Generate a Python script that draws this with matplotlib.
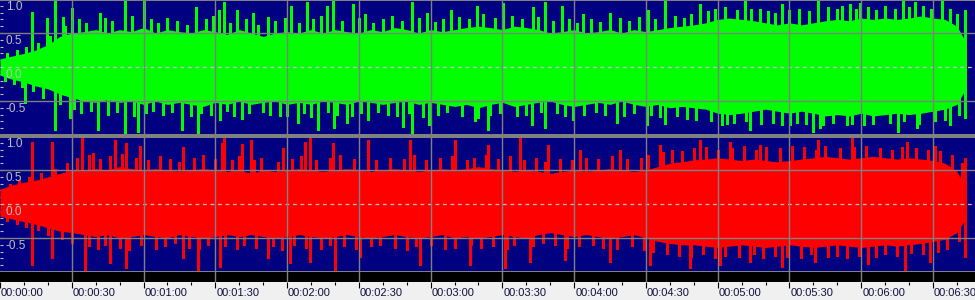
import numpy as np
import matplotlib.pyplot as plt

# --- datos (segundos / amplitud) ---
t_env = np.append(np.arange(0, 405, 5), 404)

verde_sup = [0.12, 0.16, 0.20, 0.25, 0.33, 0.45, 0.50, 0.52, 0.55, 0.50,
             0.55, 0.52, 0.58, 0.50, 0.55, 0.52, 0.50, 0.55, 0.52, 0.48,
             0.55, 0.50, 0.45, 0.50, 0.52, 0.50, 0.55, 0.50, 0.55, 0.52,
             0.50, 0.55, 0.52, 0.58, 0.55, 0.50, 0.55, 0.52, 0.55, 0.58,
             0.60, 0.58, 0.55, 0.60, 0.58, 0.55, 0.50, 0.52, 0.55, 0.50,
             0.52, 0.55, 0.50, 0.55, 0.52, 0.55, 0.58, 0.60, 0.62, 0.65,
             0.70, 0.72, 0.70, 0.68, 0.65, 0.62, 0.65, 0.62, 0.65, 0.68,
             0.70, 0.68, 0.72, 0.70, 0.72, 0.70, 0.72, 0.75, 0.72, 0.70,
             0.60, 0.35]
verde_inf = [-0.12, -0.18, -0.22, -0.28, -0.32, -0.40, -0.45, -0.50, -0.52, -0.48,
             -0.52, -0.50, -0.55, -0.50, -0.55, -0.52, -0.55, -0.58, -0.52, -0.55,
             -0.50, -0.55, -0.52, -0.50, -0.55, -0.52, -0.55, -0.50, -0.52, -0.55,
             -0.50, -0.52, -0.55, -0.52, -0.50, -0.55, -0.52, -0.55, -0.58, -0.55,
             -0.60, -0.55, -0.52, -0.58, -0.55, -0.52, -0.50, -0.55, -0.58, -0.55,
             -0.52, -0.55, -0.50, -0.55, -0.58, -0.55, -0.60, -0.58, -0.60, -0.62,
             -0.68, -0.70, -0.68, -0.65, -0.62, -0.65, -0.68, -0.65, -0.68, -0.72,
             -0.70, -0.72, -0.68, -0.72, -0.70, -0.68, -0.70, -0.68, -0.65, -0.62,
             -0.55, -0.30]
rojo_sup = [0.22, 0.28, 0.32, 0.35, 0.40, 0.45, 0.50, 0.50, 0.52, 0.50,
            0.55, 0.52, 0.50, 0.52, 0.50, 0.48, 0.50, 0.52, 0.50, 0.48,
            0.50, 0.45, 0.50, 0.48, 0.50, 0.52, 0.50, 0.48, 0.50, 0.52,
            0.50, 0.48, 0.50, 0.52, 0.50, 0.48, 0.50, 0.52, 0.50, 0.52,
            0.55, 0.52, 0.50, 0.48, 0.50, 0.48, 0.45, 0.48, 0.50, 0.48,
            0.50, 0.52, 0.50, 0.48, 0.50, 0.55, 0.60, 0.62, 0.65, 0.66,
            0.68, 0.66, 0.64, 0.66, 0.64, 0.62, 0.64, 0.66, 0.68, 0.70,
            0.68, 0.66, 0.68, 0.70, 0.68, 0.66, 0.68, 0.66, 0.64, 0.60,
            0.48, 0.20]
rojo_inf = [-0.18, -0.22, -0.26, -0.30, -0.35, -0.40, -0.42, -0.45, -0.48, -0.45,
            -0.50, -0.48, -0.45, -0.48, -0.50, -0.45, -0.48, -0.50, -0.48, -0.45,
            -0.48, -0.45, -0.48, -0.50, -0.48, -0.45, -0.48, -0.50, -0.48, -0.45,
            -0.48, -0.50, -0.48, -0.45, -0.48, -0.50, -0.48, -0.45, -0.50, -0.48,
            -0.50, -0.48, -0.45, -0.48, -0.50, -0.45, -0.42, -0.45, -0.48, -0.45,
            -0.48, -0.50, -0.48, -0.45, -0.50, -0.55, -0.58, -0.60, -0.60, -0.62,
            -0.64, -0.62, -0.60, -0.62, -0.64, -0.62, -0.60, -0.62, -0.64, -0.62,
            -0.60, -0.62, -0.64, -0.62, -0.60, -0.62, -0.60, -0.58, -0.55, -0.52,
            -0.42, -0.20]

# picos aislados altos (segundo, amplitud)
verde_picos_t = [13.4, 19.6, 23, 26.3, 30.1, 41.8, 52.3, 60.2, 82, 91.6, 93.6, 99.1,
                 105.8, 112, 121.7, 128.3, 136.7, 139.2, 147.6, 152.6, 172.2, 178.5,
                 188.5, 199.4, 210.3, 222.8, 227.8, 235, 243.7, 255, 270.9, 278,
                 292.6, 311.5, 317.7, 326.9, 342, 355.4, 359.5, 377.5, 382.5, 393.8, 403.4]
verde_picos_v = [0.81, 0.72, 1.0, 0.74, 0.87, 0.8, 1.0, 1.0, 0.88, 0.84, 0.96, 0.84,
                 0.8, 0.74, 0.9, 0.95, 0.9, 0.97, 0.92, 0.78, 0.96, 0.8,
                 0.84, 0.9, 0.94, 0.88, 0.96, 0.9, 0.78, 0.8, 0.84, 0.98,
                 0.92, 1.0, 0.85, 0.92, 0.97, 0.93, 0.94, 0.97, 0.96, 0.97, 0.84]
verde_valles_t = [10.5, 23, 29.3, 41, 52.3, 57.7, 76.1, 82.8, 92, 101.2, 117, 124.6,
                  132.9, 139.6, 145, 153.8, 168.5, 172.2, 179.3, 198.6, 204, 222.4,
                  227.8, 239.5, 258, 270.5, 278, 301.8, 313.5, 330.3, 339.9, 342.8,
                  354.1, 375.4, 383.4, 397.2, 403.4]
verde_valles_v = [-0.53, -0.93, -0.75, -0.93, -1.0, -0.95, -0.93, -0.97, -0.78, -0.77, -0.72, -0.83,
                  -0.93, -0.9, -0.82, -0.78, -0.88, -0.97, -0.85, -0.8, -0.93, -0.85,
                  -0.9, -0.78, -0.82, -0.85, -0.84, -0.85, -0.93, -0.85, -0.95, -0.9,
                  -0.85, -0.95, -0.9, -0.85, -0.75]
rojo_picos_t = [13.4, 21.7, 34.3, 38.9, 48.1, 52.7, 58.5, 76.5, 92.8, 93.6, 101.2, 104.9,
                118.3, 127.5, 129.6, 139.2, 153.8, 171.4, 190.2, 204, 217.4, 229.1,
                242.5, 259.2, 275.9, 292.6, 305.2, 317.7, 326.1, 342, 356.2, 367.9,
                379.2, 390.9, 403.4]
rojo_picos_v = [0.91, 0.91, 0.97, 0.75, 0.94, 0.9, 0.85, 0.84, 0.9, 0.97, 0.88, 0.94,
                0.82, 0.91, 0.97, 0.9, 0.94, 0.94, 0.94, 0.87, 0.97, 0.87,
                0.8, 0.8, 0.87, 0.94, 0.91, 0.87, 0.8, 0.94, 0.97, 0.82,
                0.91, 0.86, 0.68]
rojo_valles_t = [13.4, 21.7, 35.5, 46, 52.7, 76.5, 82.8, 92, 112, 121.2, 129.6, 140,
                 150.5, 175.6, 196.5, 211.1, 221.6, 236.2, 255, 271.7, 288.5, 301,
                 313.5, 326.9, 340.7, 362.9, 378.3, 388.8, 403.4]
rojo_valles_v = [-0.9, -0.8, -0.97, -0.87, -0.94, -0.8, -0.97, -0.92, -0.8, -0.87, -0.85, -0.97,
                 -0.78, -0.9, -0.9, -0.94, -0.85, -0.82, -0.85, -0.9, -0.94, -0.9,
                 -0.85, -0.92, -0.85, -0.88, -0.97, -0.85, -0.78]

# picos medianos que forman el borde dentado
verde_med_sup_t = [3, 7, 11, 16, 21, 27, 33, 36, 44, 47,
                   55, 63, 66, 70, 74, 78, 86, 89, 96, 103,
                   108, 115, 119, 125, 131, 134, 143, 150, 156, 160,
                   164, 168, 175, 182, 185, 192, 196, 202, 207, 214,
                   218, 225, 231, 238, 241, 247, 251, 259, 263, 267,
                   274, 282, 286, 289, 296, 299, 303, 308, 314, 321,
                   324, 330, 334, 338, 346, 350, 352, 358, 363, 366,
                   370, 374, 380, 386, 389, 397, 400]
verde_med_sup_v = [0.2, 0.25, 0.3, 0.35, 0.45, 0.6, 0.7, 0.65, 0.72, 0.68,
                   0.75, 0.7, 0.65, 0.72, 0.68, 0.62, 0.7, 0.75, 0.65, 0.7,
                   0.62, 0.68, 0.72, 0.65, 0.7, 0.75, 0.68, 0.72, 0.65, 0.7,
                   0.75, 0.68, 0.72, 0.66, 0.7, 0.74, 0.7, 0.78, 0.72, 0.75,
                   0.7, 0.74, 0.68, 0.7, 0.65, 0.7, 0.66, 0.72, 0.68, 0.74,
                   0.7, 0.75, 0.72, 0.78, 0.82, 0.85, 0.88, 0.84, 0.86, 0.82,
                   0.8, 0.84, 0.86, 0.82, 0.88, 0.85, 0.9, 0.86, 0.88, 0.84,
                   0.9, 0.86, 0.88, 0.9, 0.85, 0.86, 0.78]
verde_med_inf_t = [2, 6, 9, 14, 18, 25, 31, 34, 38, 45,
                   49, 56, 61, 64, 68, 72, 80, 84, 88, 95,
                   98, 104, 110, 113, 120, 127, 130, 137, 141, 147,
                   151, 158, 162, 166, 171, 177, 183, 187, 193, 200,
                   205, 209, 216, 220, 226, 233, 236, 244, 249, 253,
                   261, 265, 272, 276, 283, 287, 291, 297, 304, 307,
                   312, 318, 323, 327, 333, 337, 344, 348, 356, 361,
                   365, 372, 378, 384, 391, 395, 401]
verde_med_inf_v = [-0.2, -0.25, -0.3, -0.35, -0.45, -0.55, -0.62, -0.68, -0.65, -0.7,
                   -0.66, -0.72, -0.68, -0.65, -0.7, -0.66, -0.72, -0.68, -0.7, -0.65,
                   -0.72, -0.68, -0.66, -0.7, -0.72, -0.68, -0.74, -0.66, -0.7, -0.72,
                   -0.68, -0.66, -0.7, -0.72, -0.68, -0.74, -0.7, -0.66, -0.72, -0.75,
                   -0.7, -0.68, -0.72, -0.7, -0.66, -0.68, -0.72, -0.7, -0.66, -0.7,
                   -0.72, -0.68, -0.7, -0.74, -0.72, -0.76, -0.78, -0.8, -0.84, -0.82,
                   -0.8, -0.84, -0.82, -0.86, -0.82, -0.84, -0.86, -0.82, -0.84, -0.86,
                   -0.84, -0.82, -0.8, -0.84, -0.8, -0.78, -0.7]
rojo_med_sup_t = [4, 8, 12, 17, 23, 28, 32, 37, 42, 46,
                  51, 57, 62, 67, 71, 75, 81, 85, 90, 97,
                  100, 106, 109, 116, 122, 126, 132, 138, 142, 148,
                  154, 157, 163, 169, 173, 178, 184, 189, 195, 198,
                  203, 208, 213, 219, 224, 228, 234, 239, 245, 250,
                  256, 262, 268, 271, 277, 281, 285, 290, 295, 300,
                  306, 311, 316, 320, 326, 331, 336, 341, 345, 351,
                  357, 362, 368, 373, 377, 383, 388, 393, 398, 402]
rojo_med_sup_v = [0.3, 0.35, 0.4, 0.45, 0.52, 0.6, 0.68, 0.72, 0.66, 0.7,
                  0.74, 0.68, 0.65, 0.7, 0.66, 0.62, 0.68, 0.72, 0.66, 0.64,
                  0.7, 0.65, 0.68, 0.62, 0.66, 0.7, 0.64, 0.68, 0.72, 0.66,
                  0.7, 0.64, 0.68, 0.66, 0.72, 0.65, 0.68, 0.7, 0.64, 0.68,
                  0.72, 0.66, 0.7, 0.64, 0.68, 0.62, 0.66, 0.64, 0.68, 0.66,
                  0.7, 0.66, 0.68, 0.72, 0.76, 0.8, 0.78, 0.82, 0.84, 0.8,
                  0.82, 0.86, 0.8, 0.84, 0.82, 0.86, 0.84, 0.8, 0.85, 0.82,
                  0.84, 0.86, 0.82, 0.8, 0.84, 0.82, 0.8, 0.78, 0.72, 0.6]
rojo_med_inf_t = [3, 7, 11, 16, 20, 26, 30, 37, 41, 44,
                  50, 54, 59, 65, 69, 73, 79, 83, 87, 94,
                  99, 102, 107, 114, 118, 123, 128, 134, 138, 144,
                  149, 155, 159, 165, 170, 174, 180, 186, 190, 197,
                  201, 206, 212, 215, 223, 227, 232, 237, 242, 248,
                  252, 258, 264, 269, 273, 279, 284, 289, 294, 299,
                  303, 309, 315, 319, 324, 329, 335, 339, 346, 350,
                  354, 359, 366, 370, 375, 381, 386, 392, 396, 401]
rojo_med_inf_v = [-0.25, -0.3, -0.34, -0.38, -0.45, -0.52, -0.58, -0.62, -0.66, -0.6,
                  -0.64, -0.68, -0.6, -0.66, -0.62, -0.58, -0.64, -0.66, -0.6, -0.62,
                  -0.66, -0.6, -0.64, -0.62, -0.68, -0.6, -0.64, -0.66, -0.6, -0.62,
                  -0.66, -0.62, -0.6, -0.64, -0.68, -0.62, -0.6, -0.66, -0.64, -0.6,
                  -0.64, -0.62, -0.66, -0.6, -0.62, -0.58, -0.6, -0.64, -0.62, -0.6,
                  -0.64, -0.66, -0.62, -0.68, -0.7, -0.74, -0.76, -0.78, -0.74, -0.8,
                  -0.76, -0.78, -0.74, -0.8, -0.76, -0.78, -0.8, -0.74, -0.78, -0.76,
                  -0.8, -0.76, -0.78, -0.74, -0.76, -0.72, -0.74, -0.7, -0.66, -0.55]

marcas_seg = list(range(0, 391, 30))
etiquetas = ["00:%02d:%02d" % (s // 60, s % 60) for s in marcas_seg]

# --- escala en pixeles ---
W, H = 975, 300
px_por_seg = 71.77 / 30.0
t_max = W / px_por_seg

fondo = "#000080"
gris = "#808080"
gris_claro = "#c0c0c0"

fig = plt.figure(figsize=(W / 100, H / 100), dpi=100, facecolor=gris)


def ejes_px(arriba, abajo, color):
    ax = fig.add_axes([0, 1 - abajo / H, 1, (abajo - arriba) / H])
    ax.set_facecolor(color)
    for s in ax.spines.values():
        s.set_visible(False)
    ax.set_xlim(0, t_max)
    return ax


def canal(ax, centro, arriba, abajo, sup, inf, picos, color):
    ax.set_ylim((centro - abajo) / 68.0, (centro - arriba) / 68.0)
    ax.fill_between(t_env, inf, sup, color=color, lw=0, antialiased=False, zorder=2)
    for pt, pv in picos:
        ax.vlines(pt, 0, pv, colors=color, lw=1.0, antialiased=False, zorder=2)
    # rejilla encima de la onda
    for y in (0.5, -0.5):
        ax.axhline(y, color=gris, lw=1.0, zorder=3)
    ax.axhline(0, color=gris_claro, lw=0.9, dashes=(3, 3), zorder=3)
    for s in marcas_seg[1:]:
        ax.axvline(s, color=gris, lw=1.0, zorder=3)
    ax.set_xticks([])
    ax.set_yticks([])
    ax.set_yticks(np.arange(-0.9, 1.0, 0.1), minor=True)
    ax.tick_params(axis="y", which="minor", direction="in", length=2, width=0.8,
                   color=gris_claro, labelleft=False)
    for v, txt in ((1.0, "1.0"), (0.5, "0.5"), (0.0, "0.0"), (-0.5, "-0.5")):
        ax.annotate(txt, xy=(0, v), xycoords=("axes fraction", "data"),
                    xytext=(6, -2), textcoords="offset pixels",
                    ha="left", va="top", fontsize=8.5, color=gris_claro,
                    family="Liberation Sans", zorder=4, annotation_clip=False)


ax1 = ejes_px(1, 134, fondo)
canal(ax1, 67, 1, 134, verde_sup, verde_inf,
      [(verde_med_sup_t, verde_med_sup_v), (verde_med_inf_t, verde_med_inf_v),
       (verde_picos_t, verde_picos_v), (verde_valles_t, verde_valles_v)], "#00ff00")

ax2 = ejes_px(137.5, 270.5, fondo)
canal(ax2, 204, 137.5, 270.5, rojo_sup, rojo_inf,
      [(rojo_med_sup_t, rojo_med_sup_v), (rojo_med_inf_t, rojo_med_inf_v),
       (rojo_picos_t, rojo_picos_v), (rojo_valles_t, rojo_valles_v)], "#ff0000")

# franja negra
axn = ejes_px(272, 282, "black")
axn.set_ylim(0, 1)
axn.set_xticks([])
axn.set_yticks([])
for s in marcas_seg[1:]:
    axn.axvline(s, color=gris, lw=1.0)

# regla de tiempo
axr = ejes_px(282, 300, "#f0f0f0")
axr.set_ylim(18, 0)
axr.set_xticks([])
axr.set_yticks([])
for s in range(0, 410, 10):
    largo = 6 if s % 30 == 0 else 3
    axr.plot([s, s], [0, largo], color="black", lw=0.8, solid_capstyle="butt")
for s, txt in zip(marcas_seg, etiquetas):
    axr.text(s + 1 / px_por_seg, 10.5, txt, ha="left", va="center", fontsize=8,
             color="#101040", family="Liberation Sans", clip_on=True)

fig.savefig("out.png", dpi=100, facecolor=gris)
